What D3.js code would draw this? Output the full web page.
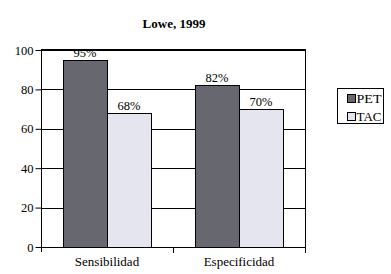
<!DOCTYPE html>
<html>
<head>
<meta charset="utf-8">
<script src="https://cdn.jsdelivr.net/npm/d3@7"></script>
<style>
  body { margin: 0; background: #fff; }
  svg { display: block; font-family: "Liberation Serif", "Times New Roman", serif; }
</style>
</head>
<body>
<svg id="chart"></svg>
<script>
// chart data
const title = "Lowe, 1999";
const categories = ["Sensibilidad", "Especificidad"];
const seriesNames = ["PET", "TAC"];
const petValues = [95, 82];
const tacValues = [68, 70];
const yTicks = [0, 20, 40, 60, 80, 100];

const colors = ["#67676f", "#e5e5ef"];

const dims = {
  width: 391,
  height: 274,
  left: 41,
  right: 305,
  top: 50,
  bottom: 247
};

const svg = d3.select("#chart")
    .attr("width", dims.width)
    .attr("height", dims.height);

// scales
const x0 = d3.scaleBand()
    .domain(categories)
    .range([dims.left, dims.right]);

const x1 = d3.scaleBand()
    .domain(seriesNames)
    .range([0, x0.bandwidth()])
    .paddingOuter(0.5)
    .paddingInner(0);

const y = d3.scaleLinear()
    .domain([0, 100])
    .range([dims.bottom, dims.top]);

// gridlines behind the bars
svg.append("g")
  .selectAll("line")
  .data(yTicks.filter(d => d > 0))
  .join("line")
    .attr("x1", dims.left)
    .attr("x2", dims.right)
    .attr("y1", d => Math.round(y(d)) + 0.5)
    .attr("y2", d => Math.round(y(d)) + 0.5)
    .attr("stroke", "#000")
    .attr("stroke-width", 1);

// right border
svg.append("line")
    .attr("x1", dims.right + 0.5)
    .attr("x2", dims.right + 0.5)
    .attr("y1", dims.top)
    .attr("y2", dims.bottom)
    .attr("stroke", "#000");

// bars
const rows = categories.map((c, i) => ({cat: c, values: [petValues[i], tacValues[i]]}));

const groups = svg.append("g")
  .selectAll("g")
  .data(rows)
  .join("g")
    .attr("transform", d => `translate(${x0(d.cat)},0)`);

groups.selectAll("rect")
  .data(d => d.values.map((v, j) => ({name: seriesNames[j], value: v, j: j})))
  .join("rect")
    .attr("x", d => Math.round(x1(d.name)) + 0.5)
    .attr("y", d => Math.round(y(d.value)) + 0.5)
    .attr("width", x1.bandwidth())
    .attr("height", d => dims.bottom - Math.round(y(d.value)))
    .attr("fill", d => colors[d.j])
    .attr("stroke", "#000")
    .attr("stroke-width", 1);

groups.selectAll("text")
  .data(d => d.values.map((v, j) => ({name: seriesNames[j], value: v})))
  .join("text")
    .attr("x", d => x1(d.name) + x1.bandwidth() / 2)
    .attr("y", d => y(d.value) - 3)
    .attr("text-anchor", "middle")
    .style("font-size", "12.5px")
    .text(d => d.value + "%");

// y axis
svg.append("g")
    .attr("transform", `translate(${dims.left + 0.5},0)`)
    .call(d3.axisLeft(y).tickValues(yTicks).tickSize(6).tickPadding(2))
    .call(g => g.select(".domain").attr("d", `M0,${dims.top}V${dims.bottom + 5}`))
    .call(g => g.selectAll("text")
        .style("font-family", "Liberation Serif, serif")
        .style("font-size", "12.5px")
        .attr("fill", "#000"));

// x axis
svg.append("g")
    .attr("transform", `translate(0,${dims.bottom + 0.5})`)
    .call(d3.axisBottom(x0).tickSize(0).tickPadding(9))
    .call(g => g.select(".domain").attr("d", `M${dims.left},0H${dims.right + 0.5}`))
    .call(g => g.selectAll("text")
        .style("font-family", "Liberation Serif, serif")
        .style("font-size", "13px")
        .attr("fill", "#000"));

// x axis separators
svg.append("g")
  .selectAll("line")
  .data(categories.slice(1).concat(["end"]))
  .join("line")
    .attr("x1", d => d === "end" ? dims.right + 0.5 : Math.round(x0(d)) + 0.5)
    .attr("x2", d => d === "end" ? dims.right + 0.5 : Math.round(x0(d)) + 0.5)
    .attr("y1", dims.bottom)
    .attr("y2", dims.bottom + 6)
    .attr("stroke", "#000");

// top border
svg.append("line")
    .attr("x1", dims.left)
    .attr("x2", dims.right + 1)
    .attr("y1", dims.top - 0.5)
    .attr("y2", dims.top - 0.5)
    .attr("stroke", "#000");

// title
svg.append("text")
    .attr("x", 174)
    .attr("y", 28)
    .attr("text-anchor", "middle")
    .style("font-size", "13px")
    .style("font-weight", "bold")
    .text(title);

// legend
const legend = svg.append("g")
    .attr("transform", "translate(337.5,88.5)");

legend.append("rect")
    .attr("width", 46)
    .attr("height", 35)
    .attr("fill", "#fff")
    .attr("stroke", "#000");

const items = legend.selectAll("g")
  .data(seriesNames)
  .join("g")
    .attr("transform", (d, i) => `translate(10,${6 + i * 18})`);

items.append("rect")
    .attr("width", 8)
    .attr("height", 8)
    .attr("fill", (d, i) => colors[i])
    .attr("stroke", "#000");

items.append("text")
    .attr("x", 9)
    .attr("y", 8.5)
    .attr("textLength", 25)
    .attr("lengthAdjust", "spacingAndGlyphs")
    .style("font-size", "12.5px")
    .text(d => d);
</script>
</body>
</html>
